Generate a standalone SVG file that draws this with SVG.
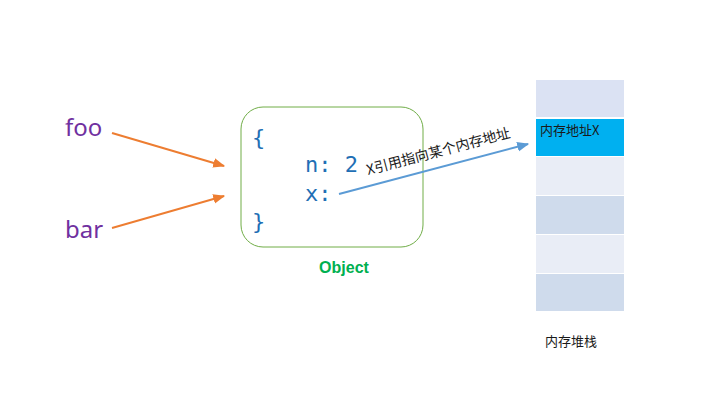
<svg xmlns="http://www.w3.org/2000/svg" width="720" height="405" viewBox="0 0 720 405">
<defs>
<style>
.cjk{font-family:"Microsoft YaHei","Noto Sans CJK SC",sans-serif}
.code{font-family:"DejaVu Sans Mono","Liberation Mono",monospace;font-size:22px;fill:#1f6fb5}
.var{font-family:"Noto Sans","Open Sans",sans-serif;font-size:24px;fill:#7030a0}
</style>
<marker id="ao" viewBox="0 0 10 10" refX="9" refY="5" markerWidth="6" markerHeight="6" orient="auto"><path d="M0,1 L10,5 L0,9 z" fill="#ed7d31"/></marker>
<marker id="ab" viewBox="0 0 10 10" refX="9" refY="5" markerWidth="6" markerHeight="6" orient="auto"><path d="M0,1 L10,5 L0,9 z" fill="#5b9bd5"/></marker>
</defs>
<rect width="720" height="405" fill="#fff"/>
<g id="foo"><text class="var" x="65" y="136">foo</text></g>
<g id="bar"><text class="var" x="65" y="238">bar</text></g>
<g id="object">
<rect x="241" y="107" width="182" height="140" rx="22" fill="#fff" stroke="#70ad47" stroke-width="1"/>
<text class="code" x="252" y="145">{</text>
<text class="code" x="305" y="172" xml:space="preserve">n: 2</text>
<text class="code" x="305" y="201">x:</text>
<text class="code" x="252" y="229">}</text>
<text x="344" y="273" text-anchor="middle" font-family="Liberation Sans,Arial,sans-serif" font-weight="bold" font-size="16" fill="#00b050">Object</text>
</g>
<g id="stack">
<rect x="536" y="80" width="88" height="37" fill="#dbe2f3"/>
<rect x="536" y="119" width="88" height="37" fill="#00b0f0"/>
<rect x="536" y="157" width="88" height="38" fill="#e9edf6"/>
<rect x="536" y="196" width="88" height="38" fill="#cfdbec"/>
<rect x="536" y="235" width="88" height="38" fill="#e9edf6"/>
<rect x="536" y="274" width="88" height="37" fill="#cfdbec"/>
<text class="cjk" x="540" y="135" font-size="13" fill="#1a1a1a">内存地址X</text>
<text class="cjk" x="545" y="346" font-size="13" fill="#1a1a1a">内存堆栈</text>
</g>
<g id="connectors">
<line x1="112" y1="133" x2="224" y2="166" stroke="#ed7d31" stroke-width="2" marker-end="url(#ao)"/>
<line x1="112" y1="228" x2="224" y2="196" stroke="#ed7d31" stroke-width="2" marker-end="url(#ao)"/>
<line x1="339" y1="194" x2="528" y2="144" stroke="#5b9bd5" stroke-width="2" marker-end="url(#ab)"/>
<text class="cjk" font-size="14" fill="#1a1a1a" transform="translate(368,175) rotate(-14.8)">X引用指向某个内存地址</text>
</g>
</svg>
